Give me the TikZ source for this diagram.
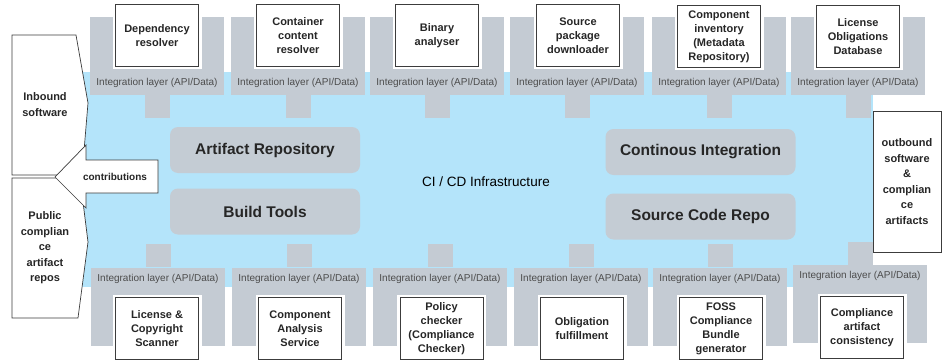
\documentclass[tikz,border=0pt]{standalone}
\usepackage{fontspec}
\setmainfont{Liberation Sans}
\usetikzlibrary{calc}

\definecolor{cibg}{RGB}{180,228,250}
\definecolor{layergrey}{RGB}{196,203,211}
\definecolor{toolgrey}{RGB}{196,204,212}
\definecolor{edgegrey}{RGB}{60,60,60}

\begin{document}
\begin{tikzpicture}[x=1pt,y=1pt,
	intblock/.style={fill=layergrey,minimum width=134pt,minimum height=78pt,inner sep=0pt},
	intlabel/.style={font=\fontsize{10}{12}\selectfont,text=black!70},
	stem/.style={fill=layergrey},
	svcbox/.style={draw=edgegrey,fill=white,line width=0.6pt,minimum width=83pt,minimum height=62pt,inner sep=1pt,align=center,font=\bfseries\fontsize{11}{14}\selectfont,text=black!85,preaction={draw=white,line width=6pt}},
	toolbox/.style={fill=toolgrey,rounded corners=8pt,minimum width=190pt,minimum height=46pt,font=\bfseries\fontsize{15.5}{18}\selectfont,text=black!85},
	sidebox/.style={draw=edgegrey,fill=white,line width=0.7pt},
	sidetext/.style={align=center,font=\bfseries\fontsize{11}{15.5}\selectfont,text=black!85}]

	\useasboundingbox (0,0) rectangle (943,-361);

	% CI/CD area
	\fill[cibg] (70,-72) rectangle (873,-287);
	\node (cicd) at (486,-182) {\fontsize{13.5}{16}\selectfont CI / CD Infrastructure};

	% upper integration layers
	\draw (157,-56) node (layerT1) [intblock] {};
	\node [intlabel] at ($(layerT1.south)+(0,12)$) {Integration layer (API/Data)};
	\fill [stem] ($(layerT1.south)+(-12.5,0)$) rectangle ++(25,-23);
	\node (depres) [svcbox] at (157,-35.5) {Dependency\\resolver};

	\draw (298,-56) node (layerT2) [intblock] {};
	\node [intlabel] at ($(layerT2.south)+(0,12)$) {Integration layer (API/Data)};
	\fill [stem] ($(layerT2.south)+(-12.5,0)$) rectangle ++(25,-23);
	\node (contres) [svcbox] at (298,-35.5) {Container\\content\\resolver};

	\draw (437,-56) node (layerT3) [intblock] {};
	\node [intlabel] at ($(layerT3.south)+(0,12)$) {Integration layer (API/Data)};
	\fill [stem] ($(layerT3.south)+(-12.5,0)$) rectangle ++(25,-23);
	\node (binan) [svcbox] at (437,-35.5) {Binary\\analyser};

	\draw (577,-56) node (layerT4) [intblock] {};
	\node [intlabel] at ($(layerT4.south)+(0,12)$) {Integration layer (API/Data)};
	\fill [stem] ($(layerT4.south)+(-12.5,0)$) rectangle ++(25,-23);
	\node (srcdl) [svcbox] at (578,-35.5) {Source\\package\\downloader};

	\draw (719,-56) node (layerT5) [intblock] {};
	\node [intlabel] at ($(layerT5.south)+(0,12)$) {Integration layer (API/Data)};
	\fill [stem] ($(layerT5.south)+(-12.5,0)$) rectangle ++(25,-23);
	\node (compinv) [svcbox] at (719,-36.5) {Component\\inventory\\(Metadata\\Repository)};

	\draw (858,-56) node (layerT6) [intblock] {};
	\node [intlabel] at ($(layerT6.south)+(0,12)$) {Integration layer (API/Data)};
	\fill [stem] ($(layerT6.south)+(-12.5,0)$) rectangle ++(25,-23);
	\node (licdb) [svcbox] at (858,-36.5) {License\\Obligations\\Database};

	% lower integration layers
	\draw (158,-306.5) node (layerB1) [intblock] {};
	\node [intlabel] at ($(layerB1.north)+(0,-12)$) {Integration layer (API/Data)};
	\fill [stem] ($(layerB1.north)+(-12.5,0)$) rectangle ++(25,23);
	\node (lcscan) [svcbox] at (157,-328.5) {License \&\\Copyright\\Scanner};

	\draw (299,-306.5) node (layerB2) [intblock] {};
	\node [intlabel] at ($(layerB2.north)+(0,-12)$) {Integration layer (API/Data)};
	\fill [stem] ($(layerB2.north)+(-12.5,0)$) rectangle ++(25,23);
	\node (compan) [svcbox] at (300,-328.5) {Component\\Analysis\\Service};

	\draw (440,-306.5) node (layerB3) [intblock] {};
	\node [intlabel] at ($(layerB3.north)+(0,-12)$) {Integration layer (API/Data)};
	\fill [stem] ($(layerB3.north)+(-12.5,0)$) rectangle ++(25,23);
	\node (polchk) [svcbox] at (441.5,-328.5) {Policy\\checker\\(Compliance\\Checker)};

	\draw (581,-306.5) node (layerB4) [intblock] {};
	\node [intlabel] at ($(layerB4.north)+(0,-12)$) {Integration layer (API/Data)};
	\fill [stem] ($(layerB4.north)+(-12.5,0)$) rectangle ++(25,23);
	\node (oblful) [svcbox] at (582,-328.5) {Obligation\\fulfillment};

	\draw (720,-306.5) node (layerB5) [intblock] {};
	\node [intlabel] at ($(layerB5.north)+(0,-12)$) {Integration layer (API/Data)};
	\fill [stem] ($(layerB5.north)+(-12.5,0)$) rectangle ++(25,23);
	\node (fossgen) [svcbox] at (721,-328.5) {FOSS\\Compliance\\Bundle\\generator};

	\draw (860,-304) node (layerB6) [intblock] {};
	\node [intlabel] at ($(layerB6.north)+(0,-11)$) {Integration layer (API/Data)};
	\fill [stem] ($(layerB6.north)+(-12.5,0)$) rectangle ++(25,23);
	\node (artcons) [svcbox] at (862,-327.5) {Compliance\\artifact\\consistency};

	% tools inside the CI/CD area
	\node (artrepo) [toolbox] at (265,-150) {Artifact Repository};
	\node (buildtools) [toolbox] at (265,-211.5) {Build Tools};
	\node (contint) [toolbox] at (700.5,-152) {Continous Integration};
	\node (srcrepo) [toolbox] at (700.5,-216.5) {Source Code Repo};

	% in- and outbound
	\draw [sidebox] (12,-35) -- (76,-35) -- (88,-103) -- (82,-175) -- (12,-175) -- cycle;
	\node (inbound) [sidetext] at (45,-104.5) {Inbound\\software};
	\draw [sidebox] (12,-178) -- (80,-178) -- (88,-242) -- (78,-318) -- (12,-318) -- cycle;
	\node (pubrepos) [sidetext] at (45,-248) {Public\\complian\\ce\\artifact\\repos};
	\node (outbound) [sidebox,sidetext,minimum width=68pt,minimum height=141pt] at (907,-181.5) {outbound\\software\\\&\\complian\\ce\\artifacts};

	\draw [sidebox] (158,-160) -- (86,-160) -- (86,-145) -- (55,-177) -- (86,-208) -- (86,-193) -- (158,-193) -- cycle;
	\node (contrib) [font=\bfseries\fontsize{10}{12}\selectfont,text=black!85] at (115,-177) {contributions};
\end{tikzpicture}
\end{document}
